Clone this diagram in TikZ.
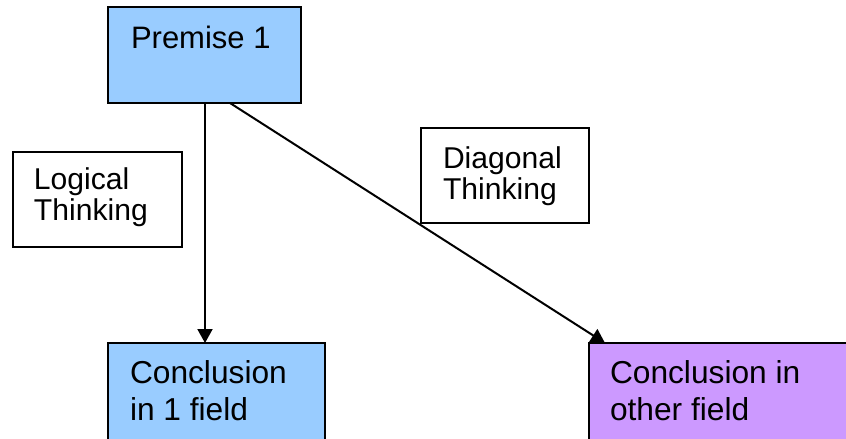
\documentclass[tikz,border=0pt]{standalone}
\usepackage{fontspec}
\setmainfont{Liberation Sans}
\usetikzlibrary{arrows.meta}
\definecolor{boxblue}{HTML}{99CCFF}
\definecolor{boxpurple}{HTML}{CC99FF}
\begin{document}
\begin{tikzpicture}[x=1pt,y=-1pt,
  box/.style={draw=black,line width=2.6pt,inner sep=0pt,outer sep=0pt},
  txt/.style={anchor=base west,inner sep=0pt,outer sep=0pt,font=\fontsize{31}{37}\selectfont},
  ctxt/.style={txt,font=\fontsize{31.7}{37}\selectfont},
  ttxt/.style={txt,font=\fontsize{30.1}{35}\selectfont},
  conn/.style={line width=2pt},
  arr/.style={conn,-{Triangle[length=14pt,width=15pt]}}]
\useasboundingbox (0,0) rectangle (846,439);
\clip (0,0) rectangle (846,439);
\fill[white] (0,0) rectangle (846,439);
% boxes
\node[box,fill=boxblue,minimum width=193pt,minimum height=96pt,anchor=north west] (p) at (108,7) {};
\node[box,fill=boxblue,minimum width=217pt,minimum height=120pt,anchor=north west] (c1) at (108,343) {};
\node[box,fill=boxpurple,minimum width=290pt,minimum height=120pt,anchor=north west] (c2) at (589,343) {};
\node[box,fill=white,minimum width=169pt,minimum height=95pt,anchor=north west] (lt) at (13,152) {};
% connectors
\draw[arr] ([xshift=97pt]p.south west) -- ([xshift=97pt]c1.north west);
\draw[arr] ([xshift=122pt]p.south west) -- ([xshift=16pt]c2.north west);
\node[box,fill=white,minimum width=168pt,minimum height=95pt,anchor=north west] (dt) at (421,128) {};
% texts
\node[txt] (pt) at (131,48) {Premise 1};
\node[ctxt] (c1a) at (130,383) {Conclusion};
\node[ctxt] (c1b) at (130,420) {in 1 field};
\node[ctxt] (c2a) at (610,383) {Conclusion in};
\node[ctxt] (c2b) at (610,420) {other field};
\node[ttxt] (lta) at (34,189) {Logical};
\node[ttxt] (ltb) at (34,220) {Thinking};
\node[ttxt] (dta) at (443,168) {Diagonal};
\node[ttxt] (dtb) at (443,199) {Thinking};
\end{tikzpicture}
\end{document}
